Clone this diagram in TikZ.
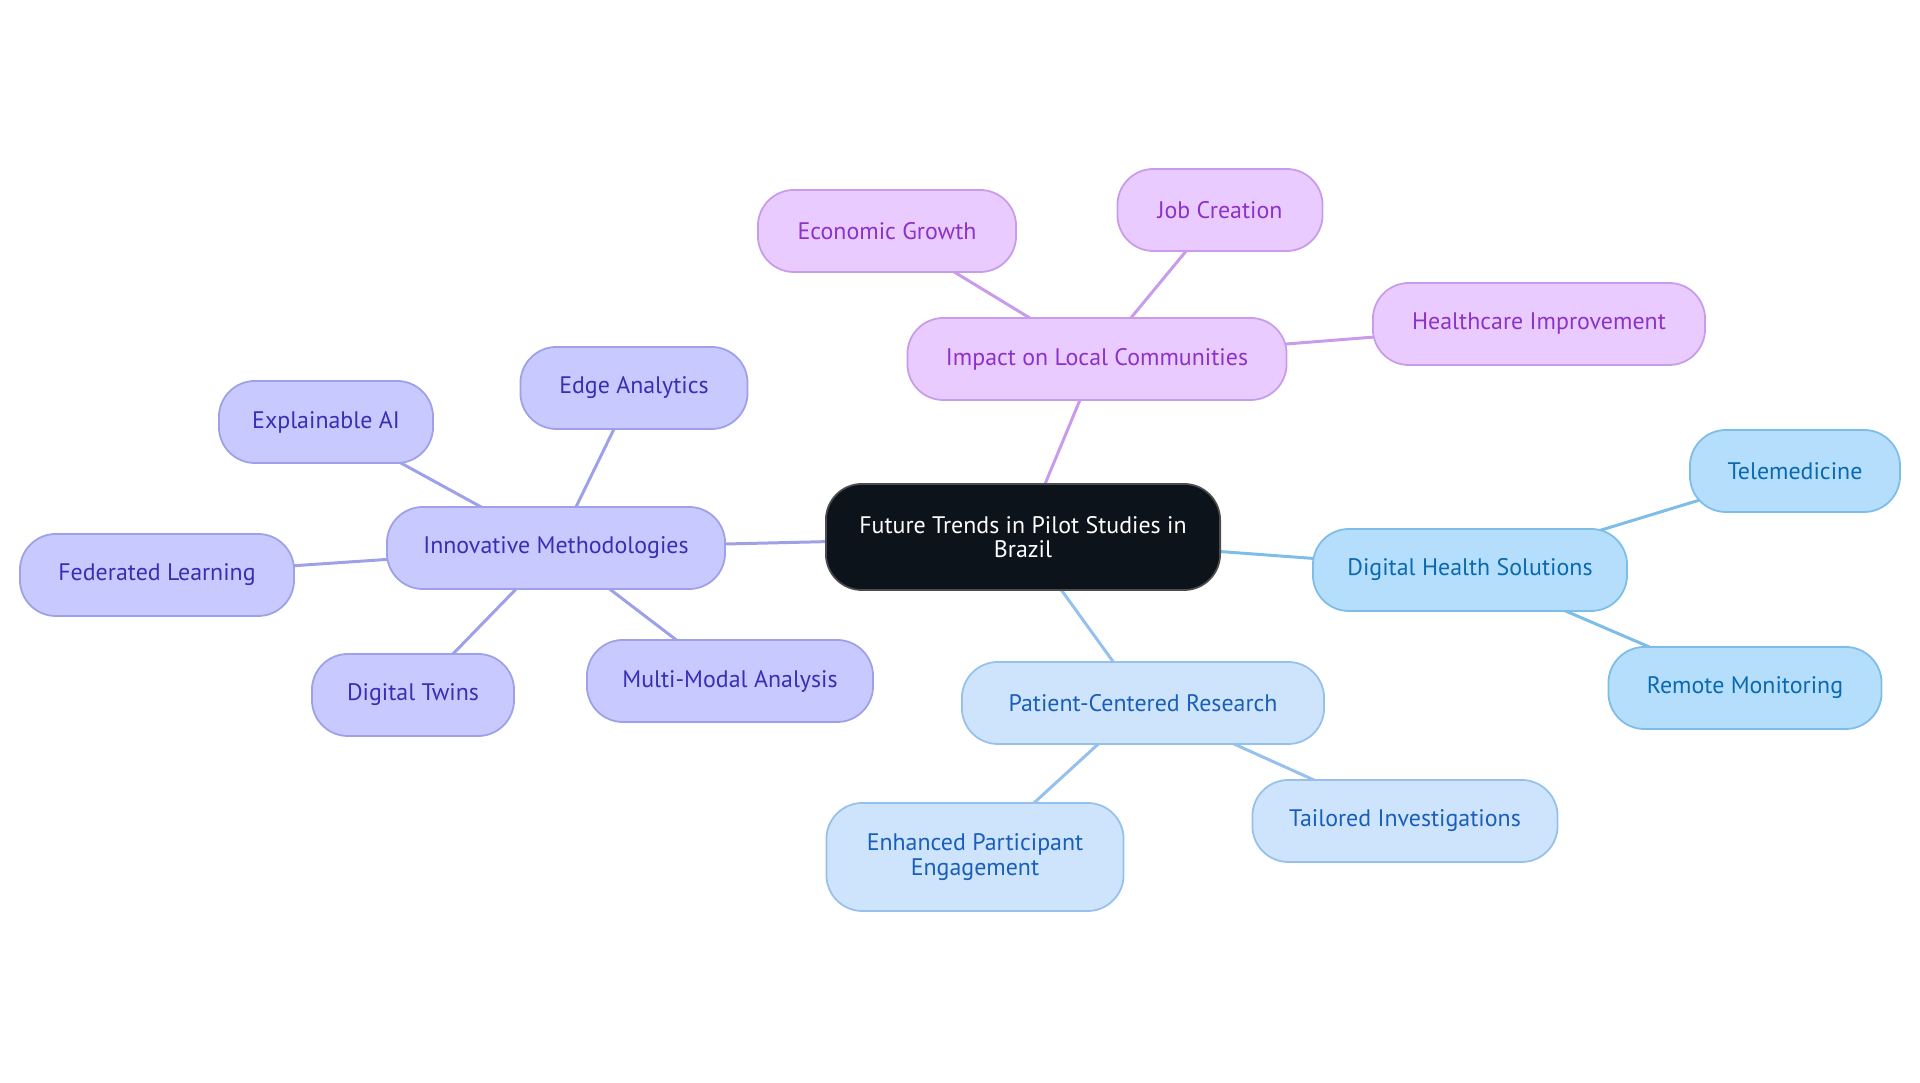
\documentclass[tikz,border=0pt]{standalone}
\usepackage{fontspec}
\setmainfont{PT Sans}
\usepackage{tikz}
\usetikzlibrary{backgrounds}
\definecolor{rootfill}{RGB}{12,19,27}
\definecolor{methfill}{RGB}{199,201,255}
\definecolor{methline}{RGB}{158,160,232}
\definecolor{methtext}{RGB}{55,48,178}
\definecolor{impfill}{RGB}{233,203,255}
\definecolor{impline}{RGB}{200,155,235}
\definecolor{imptext}{RGB}{140,50,200}
\definecolor{dhsfill}{RGB}{180,222,252}
\definecolor{dhsline}{RGB}{125,189,232}
\definecolor{dhstext}{RGB}{10,105,175}
\definecolor{pcrfill}{RGB}{206,227,252}
\definecolor{pcrline}{RGB}{150,193,236}
\definecolor{pcrtext}{RGB}{25,95,185}

\begin{document}
\begin{tikzpicture}[x=0.01cm, y=-0.01cm,
  pill/.style={rounded corners=0.36cm, minimum height=0.82cm, line width=0.5pt,
    font=\fontsize{6.8}{6.9}\selectfont, align=center, inner sep=0pt},
  meth/.style={pill, draw=methline, fill=methfill, text=methtext},
  imp/.style={pill, draw=impline, fill=impfill, text=imptext},
  dhs/.style={pill, draw=dhsline, fill=dhsfill, text=dhstext},
  pcr/.style={pill, draw=pcrline, fill=pcrfill, text=pcrtext},
  link/.style={line width=0.85pt}]
  \useasboundingbox (0,0) rectangle (1920,1083);

  % centre
  \node[pill, draw=black!70, fill=rootfill, text=white, minimum width=3.94cm, minimum height=1.06cm] (root) at (1023,537) {Future Trends in Pilot Studies in\\Brazil};

  % innovative methodologies
  \node[meth, minimum width=3.38cm] (meth) at (556,548) {Innovative Methodologies};
  \node[meth, minimum width=2.27cm] (edge) at (634,388) {Edge Analytics};
  \node[meth, minimum width=2.14cm] (xai) at (326,422) {Explainable AI};
  \node[meth, minimum width=2.74cm] (fed) at (157,575) {Federated Learning};
  \node[meth, minimum width=2.02cm] (twin) at (413,695) {Digital Twins};
  \node[meth, minimum width=2.86cm] (multi) at (730,681) {Multi-Modal Analysis};

  % impact on local communities
  \node[imp, minimum width=3.79cm] (impact) at (1097,359) {Impact on Local Communities};
  \node[imp, minimum width=2.58cm] (econ) at (887,231) {Economic Growth};
  \node[imp, minimum width=2.05cm] (job) at (1220,210) {Job Creation};
  \node[imp, minimum width=3.32cm] (care) at (1539,324) {Healthcare Improvement};

  % digital health
  \node[dhs, minimum width=3.14cm] (dhs) at (1470,570) {Digital Health Solutions};
  \node[dhs, minimum width=2.10cm] (tele) at (1795,471) {Telemedicine};
  \node[dhs, minimum width=2.73cm] (remote) at (1745,688) {Remote Monitoring};

  % patient-centered research
  \node[pcr, minimum width=3.62cm] (pcr) at (1143,703) {Patient-Centered Research};
  \node[pcr, minimum width=2.97cm, minimum height=1.08cm] (engage) at (975,857) {Enhanced Participant\\Engagement};
  \node[pcr, minimum width=3.05cm] (tailor) at (1405,821) {Tailored Investigations};

  \begin{pgfonlayer}{background}
    \draw[link, methline] (root.center) -- (meth.center);
    \foreach \n in {edge, xai, fed, twin, multi}
      \draw[link, methline] (meth.center) -- (\n.center);
    \draw[link, impline] (root.center) -- (impact.center);
    \foreach \n in {econ, job, care}
      \draw[link, impline] (impact.center) -- (\n.center);
    \draw[link, dhsline] (root.center) -- (dhs.center);
    \foreach \n in {tele, remote}
      \draw[link, dhsline] (dhs.center) -- (\n.center);
    \draw[link, pcrline] (root.center) -- (pcr.center);
    \foreach \n in {engage, tailor}
      \draw[link, pcrline] (pcr.center) -- (\n.center);
  \end{pgfonlayer}
\end{tikzpicture}
\end{document}
